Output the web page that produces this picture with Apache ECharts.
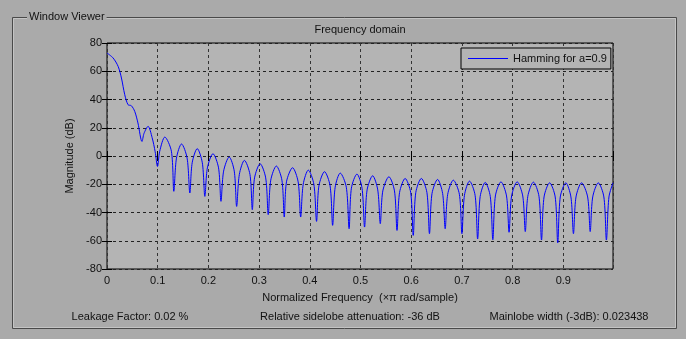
<!DOCTYPE html>
<html>
<head>
<meta charset="utf-8">
<script src="https://cdn.jsdelivr.net/npm/echarts/dist/echarts.min.js"></script>
<style>
  html, body { margin: 0; padding: 0; background: #aaaaaa; }
  #myChart { width: 686px; height: 339px; }
</style>
</head>
<body>
<div id="myChart"></div>
<script>
// magnitude response: [normalized freq, dB]
var mainLobe = [
  [0, 72.9], [0.012, 69.4], [0.022, 63.4], [0.0285, 55.2], [0.035, 43.4],
  [0.0415, 36.3], [0.048, 35.6], [0.0547, 31.6], [0.061, 23.4], [0.069, 10.3]
];
var sideLobes = [
  [0.073, 16], [0.081, 21], [0.089, 13], [0.095, 3], [0.0996, -7.4],
  [0.104, 3.4], [0.114, 13.4], [0.127, 3.4], [0.1318, -25],
  [0.137, -1.5], [0.147, 8.5], [0.158, -1.5], [0.1634, -26.2],
  [0.168, -4.8], [0.178, 5.2], [0.188, -4.8], [0.193, -28.6],
  [0.198, -8.4], [0.209, 1.6], [0.220, -8.4], [0.2248, -32.1],
  [0.230, -10.7], [0.241, -0.7], [0.251, -10.7], [0.2557, -35.7],
  [0.261, -13.1], [0.271, -3.1], [0.282, -13.1], [0.2866, -38],
  [0.291, -15.5], [0.302, -5.5], [0.313, -15.5], [0.318, -41.5],
  [0.323, -17.1], [0.334, -7.1], [0.345, -17.1], [0.3496, -43.2],
  [0.354, -18.3], [0.366, -8.3], [0.377, -18.3], [0.382, -43.2],
  [0.387, -20], [0.397, -10], [0.408, -20], [0.4133, -46.3],
  [0.418, -21.1], [0.429, -11.1], [0.440, -21.1], [0.445, -49.1],
  [0.450, -22.1], [0.460, -12.1], [0.472, -22.1], [0.4775, -51.5],
  [0.482, -22.8], [0.493, -12.8], [0.503, -22.8], [0.508, -50.3],
  [0.513, -24], [0.524, -14], [0.534, -24], [0.539, -47.9],
  [0.544, -24.7], [0.556, -14.7], [0.567, -24.7], [0.572, -52.7],
  [0.577, -25.9], [0.588, -15.9], [0.599, -25.9], [0.604, -56.2],
  [0.609, -25.9], [0.620, -15.9], [0.631, -25.9], [0.636, -55],
  [0.641, -26.6], [0.652, -16.6], [0.662, -26.6], [0.667, -51.5],
  [0.672, -27.1], [0.683, -17.1], [0.695, -27.1], [0.700, -55],
  [0.705, -27.8], [0.715, -17.8], [0.726, -27.8], [0.731, -58.7],
  [0.736, -28.7], [0.746, -18.7], [0.756, -28.7], [0.761, -59.3],
  [0.766, -28.3], [0.777, -18.3], [0.788, -28.3], [0.793, -54],
  [0.798, -28.3], [0.809, -18.3], [0.820, -28.3], [0.825, -53.5],
  [0.830, -28.5], [0.841, -18.5], [0.852, -28.5], [0.857, -59.5],
  [0.862, -29], [0.873, -19], [0.884, -29], [0.889, -61.5],
  [0.894, -29], [0.905, -19], [0.915, -29], [0.920, -55],
  [0.925, -29], [0.936, -19], [0.948, -29], [0.953, -53.5],
  [0.958, -29], [0.969, -19], [0.980, -29], [0.985, -59.5],
  [0.990, -29], [0.998, -19]
];
var seriesName = 'Hamming for a=0.9';
var footerTexts = ['Leakage Factor: 0.02 %', 'Relative sidelobe attenuation: -36 dB', 'Mainlobe width (-3dB): 0.023438'];

var font = '"Liberation Sans", Arial, sans-serif';
var txt = '#111';

var myChart = echarts.init(document.getElementById('myChart'));

var option = {
  animation: false,
  backgroundColor: '#aaaaaa',
  textStyle: { fontFamily: font },
  grid: {
    left: 107, top: 43, width: 506, height: 226,
    show: true, backgroundColor: '#b4b4b4', borderColor: '#000', borderWidth: 1
  },
  legend: {
    left: 461, top: 48,
    padding: [5, 4, 5, 7],
    backgroundColor: '#b4b4b4', borderColor: '#000', borderWidth: 1,
    itemWidth: 40, itemHeight: 1, icon: 'rect',
    textStyle: { fontFamily: font, fontSize: 11, color: txt },
    data: [seriesName]
  },
  xAxis: [{
    type: 'value', min: 0, max: 0.998, interval: 0.1,
    name: 'Normalized Frequency  (\u00d7\u03c0 rad/sample)',
    nameLocation: 'middle', nameGap: 23,
    nameTextStyle: { fontFamily: font, fontSize: 11, color: txt },
    axisLine: { show: false },
    axisTick: { inside: true, length: 5, lineStyle: { color: '#000' } },
    axisLabel: {
      fontFamily: font, fontSize: 11, color: txt, margin: 6,
      formatter: function (v) { return v > 0.95 ? '' : String(+v.toFixed(1)); }
    },
    splitLine: { show: true, lineStyle: { color: '#333', type: [3, 3] } }
  }, {
    type: 'value', min: 0, max: 0.998, interval: 0.1, position: 'top',
    axisLine: { show: false },
    axisTick: { inside: true, length: 5, lineStyle: { color: '#000' } },
    axisLabel: { show: false },
    splitLine: { show: false }
  }],
  yAxis: [{
    type: 'value', min: -80, max: 80, interval: 20,
    name: 'Magnitude (dB)', nameLocation: 'middle', nameGap: 25,
    nameTextStyle: { fontFamily: font, fontSize: 11, color: txt },
    axisLine: { show: false },
    axisTick: { inside: true, length: 5, lineStyle: { color: '#000' } },
    axisLabel: { fontFamily: font, fontSize: 11, color: txt, margin: 5 },
    splitLine: { show: true, lineStyle: { color: '#222', type: [3, 3] } }
  }, {
    type: 'value', min: -80, max: 80, interval: 20, position: 'right',
    axisLine: { show: false },
    axisTick: { inside: true, length: 5, lineStyle: { color: '#000' } },
    axisLabel: { show: false },
    splitLine: { show: false }
  }],
  graphic: [
    { type: 'rect', silent: true, z: -1,
      shape: { x: 12.5, y: 17.5, width: 664, height: 311 },
      style: { fill: 'none', stroke: '#4a4a4a', lineWidth: 1 } },
    { type: 'rect', silent: true, z: -1,
      shape: { x: 13.5, y: 18.5, width: 662, height: 309 },
      style: { fill: 'none', stroke: '#c4c4c4', lineWidth: 1 } },
    { type: 'text', x: 27, y: 17, z: 10,
      style: { text: 'Window Viewer', font: '11px ' + font, fill: txt,
        verticalAlign: 'middle', backgroundColor: '#aaaaaa', padding: [1, 2] } },
    { type: 'text', x: 360, y: 30,
      style: { text: 'Frequency domain', font: '11px ' + font, fill: txt,
        align: 'center', verticalAlign: 'middle' } },
    { type: 'text', x: 130, y: 317,
      style: { text: footerTexts[0], font: '11px ' + font, fill: txt,
        align: 'center', verticalAlign: 'middle' } },
    { type: 'text', x: 350, y: 317,
      style: { text: footerTexts[1], font: '11px ' + font, fill: txt,
        align: 'center', verticalAlign: 'middle' } },
    { type: 'text', x: 569, y: 317,
      style: { text: footerTexts[2], font: '11px ' + font, fill: txt,
        align: 'center', verticalAlign: 'middle' } }
  ],
  series: [{
    name: seriesName,
    type: 'line',
    data: mainLobe.concat(sideLobes),
    symbol: 'none',
    smooth: 0.3,
    clip: true,
    itemStyle: { color: '#0000ff' },
    lineStyle: { color: '#0000ff', width: 1 }
  }]
};
myChart.setOption(option);
</script>
</body>
</html>
